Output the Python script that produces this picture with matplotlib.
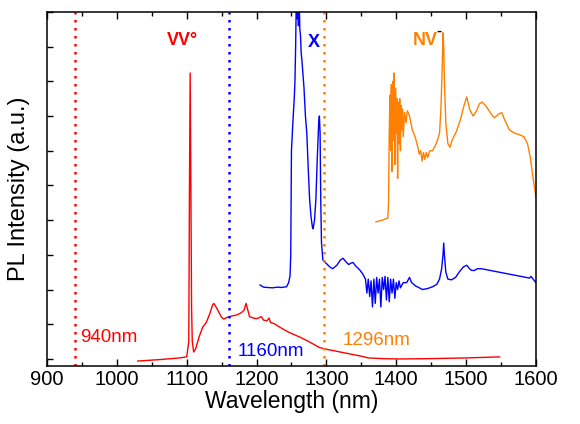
import numpy as np
import matplotlib
matplotlib.use('Agg')
import matplotlib.pyplot as plt
from matplotlib.ticker import MultipleLocator

plt.rcParams['font.family'] = ['Liberation Sans', 'DejaVu Sans']

# VV0 spectrum (red)
vv_wl = [1030, 1060, 1090, 1100, 1103, 1104, 1105, 1106, 1107, 1108, 1110,
         1113, 1118, 1123, 1128, 1133, 1137, 1139, 1142, 1146, 1150, 1153,
         1158, 1165, 1172, 1178, 1182, 1185, 1187, 1190, 1195, 1200, 1205,
         1207, 1210, 1215, 1218, 1220, 1225, 1233, 1245, 1262, 1275, 1290,
         1300, 1320, 1340, 1350, 1360, 1380, 1405, 1450, 1500, 1548]
vv_int = [-0.06, -0.02, 0.03, 0.06, 0.5, 5.0, 8.24, 5.0, 1.5, 0.5, 0.2,
          0.3, 0.65, 0.92, 1.05, 1.3, 1.55, 1.6, 1.5, 1.35, 1.2, 1.15,
          1.2, 1.24, 1.27, 1.33, 1.4, 1.6, 1.45, 1.22, 1.18, 1.16, 1.2,
          1.22, 1.12, 1.1, 1.18, 1.05, 1.02, 0.92, 0.78, 0.63, 0.5, 0.33,
          0.28, 0.2, 0.12, 0.08, 0.03, 0.01, 0.0, 0.01, 0.03, 0.06]

# X centre spectrum (blue)
x_wl = [1205, 1210, 1215, 1223, 1230, 1235, 1243, 1246, 1248, 1249, 1250,
        1252, 1254, 1255, 1256, 1257, 1258, 1259, 1260, 1261, 1262, 1263,
        1264, 1265, 1268, 1270, 1272, 1274, 1276, 1278, 1280, 1281, 1283,
        1285, 1287, 1289, 1290, 1291, 1292, 1293, 1295, 1300, 1305, 1309,
        1315, 1320, 1324, 1328, 1332, 1335, 1338, 1342, 1348, 1352, 1356,
        1358, 1360, 1362, 1364, 1366, 1368, 1370, 1372, 1374, 1376, 1378,
        1380, 1382, 1384, 1386, 1388, 1390, 1392, 1394, 1396, 1398, 1400,
        1402, 1404, 1406, 1410, 1415, 1419, 1422, 1428, 1433, 1438, 1445,
        1452, 1458, 1462, 1465, 1467, 1468, 1469, 1471, 1474, 1479, 1485,
        1490, 1496, 1501, 1505, 1508, 1512, 1516, 1522, 1591, 1593, 1596,
        1600]
x_int = [2.13, 2.07, 2.06, 2.05, 2.07, 2.06, 2.08, 2.2, 2.4, 3.0, 6.0,
         6.8, 7.5, 8.0, 9.0, 10.5, 9.8, 10.5, 9.6, 10.4, 9.5, 9.3,
         8.8, 8.6, 7.8, 7.0, 6.5, 5.5, 4.6, 4.1, 3.8, 3.75, 4.0,
         4.6, 5.8, 6.8, 7.0, 6.5, 4.5, 3.35, 2.85, 2.75, 2.65, 2.6,
         2.7, 2.85, 2.9, 2.8, 2.72, 2.76, 2.78, 2.68, 2.56, 2.45, 2.3,
         1.9, 2.3, 1.8, 2.25, 1.5, 2.3, 1.6, 2.35, 1.9, 2.3, 1.5,
         2.35, 2.0, 2.38, 1.7, 2.35, 1.65, 2.3, 1.9, 2.3, 1.75, 2.2,
         2.0, 2.25, 2.05, 2.2, 2.2, 2.35, 2.2, 2.1, 2.05, 2.0, 2.03,
         2.08, 2.15, 2.3, 2.6, 3.0, 3.34, 3.0, 2.5, 2.3, 2.28, 2.35,
         2.5, 2.65, 2.7, 2.6, 2.55, 2.55, 2.6, 2.6, 2.33, 2.38, 2.3,
         2.2]

# NV- spectrum (orange)
nv_wl = [1371, 1380, 1388, 1389, 1390, 1391, 1392, 1393, 1394, 1395, 1396,
         1397, 1398, 1399, 1400, 1401, 1402, 1403, 1404, 1405, 1406, 1407,
         1408, 1409, 1410, 1412, 1414, 1416, 1419, 1423, 1427, 1431, 1433,
         1435, 1437, 1439, 1441, 1443, 1445, 1448, 1452, 1456, 1459, 1462,
         1464, 1466, 1467, 1468, 1469, 1471, 1474, 1477, 1480, 1486, 1492,
         1497, 1501, 1505, 1510, 1515, 1519, 1523, 1528, 1533, 1538, 1541,
         1546, 1551, 1555, 1562, 1570, 1578, 1583, 1588, 1592, 1596, 1600]
nv_int = [3.95, 4.0, 4.06, 4.5, 6.5, 7.6, 6.0, 7.9, 5.4, 8.0, 6.3,
          8.24, 5.6, 7.8, 6.5, 7.5, 5.2, 7.4, 6.2, 7.5, 6.0, 7.3,
          6.6, 7.2, 6.4, 7.1, 6.8, 7.15, 7.0, 6.6, 6.4, 6.1, 5.9,
          6.0, 5.7, 5.95, 5.75, 5.95, 5.8, 6.0, 6.0, 6.15, 6.3, 6.5,
          7.2, 8.5, 9.4, 9.0, 8.0, 6.8, 6.2, 6.1, 6.3, 6.55, 6.9,
          7.3, 7.55, 7.2, 7.0, 7.15, 7.35, 7.4, 7.3, 7.15, 7.0, 6.95,
          7.05, 7.1, 6.9, 6.6, 6.5, 6.45, 6.4, 6.2, 5.8, 5.2, 4.67]

# excitation wavelengths (nm)
exc_wl = [940, 1160, 1296]

RED = '#ff0000'
BLUE = '#0000ff'
ORANGE = '#ff8000'

fig = plt.figure(figsize=(5.8, 4.24), dpi=100)
ax = fig.add_axes([0.081, 0.137, 0.843, 0.835])

ax.plot(vv_wl, vv_int, color=RED, lw=1.0)
ax.plot(x_wl, x_int, color=BLUE, lw=1.0)
ax.plot(nv_wl, nv_int, color=ORANGE, lw=1.0)

for wl, col in zip(exc_wl, [RED, BLUE, ORANGE]):
    ax.axvline(wl, color=col, lw=1.8, linestyle=(0, (1, 2.2)))

ax.text(948, 0.49, '%dnm' % exc_wl[0], color=RED, fontsize=13.5)
ax.text(1173, 0.09, '%dnm' % exc_wl[1], color=BLUE, fontsize=13.5)
ax.text(1323, 0.4, '%dnm' % exc_wl[2], color=ORANGE, fontsize=13.5)

ax.text(1072, 9.05, 'VV°', color=RED, fontsize=13, fontweight='bold')
ax.text(1273, 9.0, 'X', color=BLUE, fontsize=13, fontweight='bold')
ax.text(1423, 9.05, 'NV', color=ORANGE, fontsize=13, fontweight='bold')
# superscript minus, drawn in black
ax.text(1457, 9.45, '-', color='black', fontsize=11, fontweight='bold',
        va='center')

ax.set_xlim(900, 1600)
ax.set_ylim(-0.2, 10)
ax.xaxis.set_major_locator(MultipleLocator(100))
ax.xaxis.set_minor_locator(MultipleLocator(50))
ax.yaxis.set_major_locator(MultipleLocator(1))
ax.set_yticklabels([])
ax.tick_params(which='both', direction='in', top=True, right=False,
               labelsize=14.5, width=1, pad=3)
ax.tick_params(which='major', length=5)
ax.tick_params(which='minor', length=3)
ax.tick_params(axis='y', length=4)
for sp in ax.spines.values():
    sp.set_linewidth(1.1)

ax.set_xlabel('Wavelength (nm)', fontsize=16.5, labelpad=1)
ax.set_ylabel('PL Intensity (a.u.)', fontsize=17, labelpad=9)

fig.savefig('out.png', dpi=100)
